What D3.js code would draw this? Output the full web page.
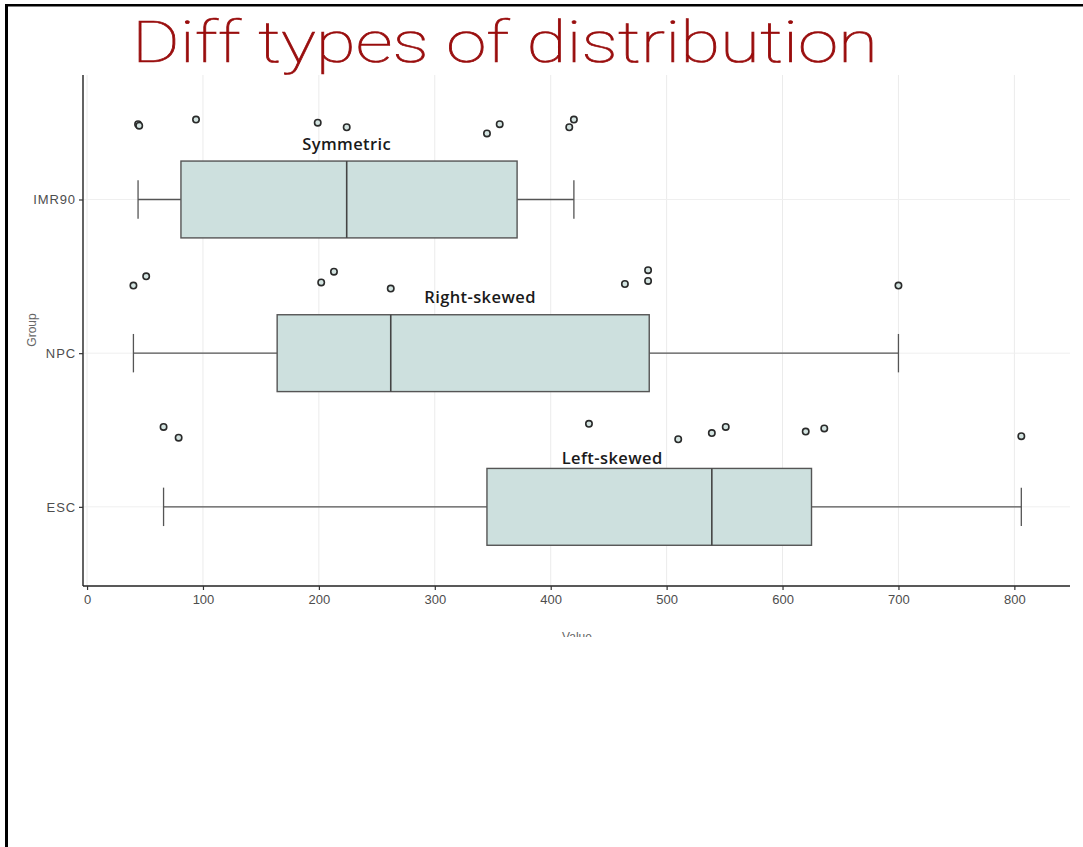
<!DOCTYPE html>
<html>
<head>
<meta charset="utf-8">
<script src="https://cdn.jsdelivr.net/npm/d3@7"></script>
<style>
  html, body { margin: 0; padding: 0; background: #fff; }
  svg { display: block; }
</style>
</head>
<body>
<svg id="chart" width="1083" height="847"></svg>
<script>
// ---------- data ----------
const categories = ["IMR90", "NPC", "ESC"];            // top to bottom
const boxMin    = [44, 40, 66];
const boxQ1     = [81, 164, 345];
const boxMedian = [224, 262, 539];
const boxQ3     = [371, 485, 625];
const boxMax    = [420, 700, 806];

const pointsIMR90 = [44, 45, 94, 199, 224, 345, 356, 416, 420];
const pointsNPC   = [40, 51, 202, 213, 262, 464, 484, 484, 700];
const pointsESC   = [66, 79, 433, 510, 539, 551, 620, 636, 806];
// vertical jitter of each point (category units, upward)
const jitterIMR90 = [0.49, 0.48, 0.52, 0.50, 0.47, 0.43, 0.49, 0.47, 0.52];
const jitterNPC   = [0.44, 0.50, 0.46, 0.53, 0.42, 0.45, 0.54, 0.47, 0.44];
const jitterESC   = [0.52, 0.45, 0.54, 0.44, 0.48, 0.52, 0.49, 0.51, 0.46];

const shapeLabels = ["Symmetric", "Right-skewed", "Left-skewed"];
const labelValue  = [224, 339, 453];
const labelLift   = [0.365, 0.37, 0.32];

const xTicks = [0, 100, 200, 300, 400, 500, 600, 700, 800];
const titleText = "Diff types of distribution";
const xTitle = "Value";
const yTitle = "Group";

// ---------- layout ----------
const svg = d3.select("#chart");
const W = 1083, H = 847;
const panel = { left: 83, right: 1070, top: 75, bottom: 586 };

svg.append("rect").attr("width", W).attr("height", H).attr("fill", "#fff");

const x = d3.scaleLinear().domain([-3.5, 848]).range([panel.left, panel.right]);
const y = d3.scaleLinear().domain([0.485, 3.81]).range([panel.bottom, panel.top]);
const catPos = i => categories.length - i;   // IMR90 -> 3, NPC -> 2, ESC -> 1
const unit = Math.abs(y(1) - y(0));

// clip the chart area like the cropped screenshot
svg.append("defs").append("clipPath").attr("id", "crop")
  .append("rect").attr("x", 0).attr("y", panel.top).attr("width", W).attr("height", 637 - panel.top);

const g = svg.append("g").attr("clip-path", "url(#crop)");

// grid
g.append("g").selectAll("line").data(xTicks).join("line")
  .attr("x1", d => x(d)).attr("x2", d => x(d))
  .attr("y1", panel.top).attr("y2", panel.bottom)
  .attr("stroke", "#ebebeb").attr("stroke-width", 1);
g.append("g").selectAll("line").data(categories).join("line")
  .attr("x1", panel.left).attr("x2", panel.right)
  .attr("y1", (d, i) => y(catPos(i))).attr("y2", (d, i) => y(catPos(i)))
  .attr("stroke", "#efefef").attr("stroke-width", 1);

// boxes
const boxHalf = 0.25 * unit;
const capHalf = 0.125 * unit;
const stroke = "#555";
const boxes = g.append("g");
categories.forEach((c, i) => {
  const cy = y(catPos(i));
  boxes.append("line")
    .attr("x1", x(boxMin[i])).attr("x2", x(boxQ1[i]))
    .attr("y1", cy).attr("y2", cy).attr("stroke", stroke).attr("stroke-width", 1.3);
  boxes.append("line")
    .attr("x1", x(boxQ3[i])).attr("x2", x(boxMax[i]))
    .attr("y1", cy).attr("y2", cy).attr("stroke", stroke).attr("stroke-width", 1.3);
  [boxMin[i], boxMax[i]].forEach(v => {
    boxes.append("line")
      .attr("x1", x(v)).attr("x2", x(v))
      .attr("y1", cy - capHalf).attr("y2", cy + capHalf)
      .attr("stroke", stroke).attr("stroke-width", 1.3);
  });
  boxes.append("rect")
    .attr("x", x(boxQ1[i])).attr("width", x(boxQ3[i]) - x(boxQ1[i]))
    .attr("y", cy - boxHalf).attr("height", 2 * boxHalf)
    .attr("fill", "#cde0de").attr("stroke", stroke).attr("stroke-width", 1.4);
  boxes.append("line")
    .attr("x1", x(boxMedian[i])).attr("x2", x(boxMedian[i]))
    .attr("y1", cy - boxHalf).attr("y2", cy + boxHalf)
    .attr("stroke", "#444").attr("stroke-width", 1.6);
});

// points
const pointSets = [pointsIMR90, pointsNPC, pointsESC];
const jitterSets = [jitterIMR90, jitterNPC, jitterESC];
const pts = [];
pointSets.forEach((arr, i) => arr.forEach((v, k) => pts.push({ i, v, j: jitterSets[i][k] })));
g.append("g").selectAll("circle").data(pts).join("circle")
  .attr("cx", d => x(d.v))
  .attr("cy", d => y(catPos(d.i) + d.j))
  .attr("r", 3.2)
  .attr("fill", "#d3e4e1")
  .attr("stroke", "#2a2a2a")
  .attr("stroke-width", 1.6);

// shape labels
g.append("g").selectAll("text").data(shapeLabels).join("text")
  .attr("x", (d, i) => x(labelValue[i]))
  .attr("y", (d, i) => y(catPos(i) + labelLift[i]))
  .attr("text-anchor", "middle")
  .attr("dominant-baseline", "central")
  .attr("font-family", "'Open Sans', 'Noto Sans', sans-serif")
  .attr("font-weight", 600)
  .attr("font-size", 16.5)
  .attr("letter-spacing", 0.4)
  .attr("fill", "#1a1a1a")
  .text(d => d);

// axes
const xAxis = g.append("g").attr("transform", `translate(0,${panel.bottom})`)
  .call(d3.axisBottom(x).tickValues(xTicks).tickSize(4).tickPadding(5).tickSizeOuter(0));
xAxis.select(".domain").attr("stroke", "#222").attr("stroke-width", 1.4)
  .attr("d", `M${panel.left},0H${panel.right}`);
xAxis.selectAll(".tick line").attr("stroke", "#333").attr("stroke-width", 1.2);
xAxis.selectAll(".tick text").attr("fill", "#4d4d4d")
  .attr("font-family", "'Liberation Sans', Arial, sans-serif").attr("font-size", 13);

const yAxis = g.append("g").attr("transform", `translate(${panel.left},0)`)
  .call(d3.axisLeft(y).tickValues(categories.map((c, i) => catPos(i)))
    .tickFormat(v => categories[categories.length - v]).tickSize(4).tickPadding(3).tickSizeOuter(0));
yAxis.select(".domain").attr("stroke", "#222").attr("stroke-width", 1.4)
  .attr("d", `M0,${panel.top}V${panel.bottom}`);
yAxis.selectAll(".tick line").attr("stroke", "#333").attr("stroke-width", 1.2);
yAxis.selectAll(".tick text").attr("fill", "#4d4d4d")
  .attr("font-family", "'Liberation Sans', Arial, sans-serif").attr("font-size", 13)
  .attr("letter-spacing", 0.9);

// axis titles
g.append("text")
  .attr("x", 577).attr("y", 641)
  .attr("text-anchor", "middle")
  .attr("font-family", "'Liberation Sans', Arial, sans-serif").attr("font-size", 12)
  .attr("fill", "#666").text(xTitle);
g.append("text")
  .attr("transform", "translate(36,330) rotate(-90)")
  .attr("text-anchor", "middle")
  .attr("font-family", "'Liberation Sans', Arial, sans-serif").attr("font-size", 12)
  .attr("fill", "#666").text(yTitle);

// frame
svg.append("line").attr("x1", 5).attr("x2", W).attr("y1", 5.2).attr("y2", 5.2)
  .attr("stroke", "#000").attr("stroke-width", 2.6);
svg.append("line").attr("x1", 6.5).attr("x2", 6.5).attr("y1", 4).attr("y2", H)
  .attr("stroke", "#000").attr("stroke-width", 3);

// handwritten-style title
svg.append("text")
  .attr("x", 132).attr("y", 62)
  .attr("textLength", 746).attr("lengthAdjust", "spacingAndGlyphs")
  .attr("font-family", "'Roboto', 'Lato', 'DejaVu Sans', sans-serif")
  .attr("font-weight", 100)
  .attr("font-size", 57)
  .attr("fill", "#990d0d")
  .attr("stroke", "#990d0d")
  .attr("stroke-width", 0.7)
  .text(titleText);
</script>
</body>
</html>
